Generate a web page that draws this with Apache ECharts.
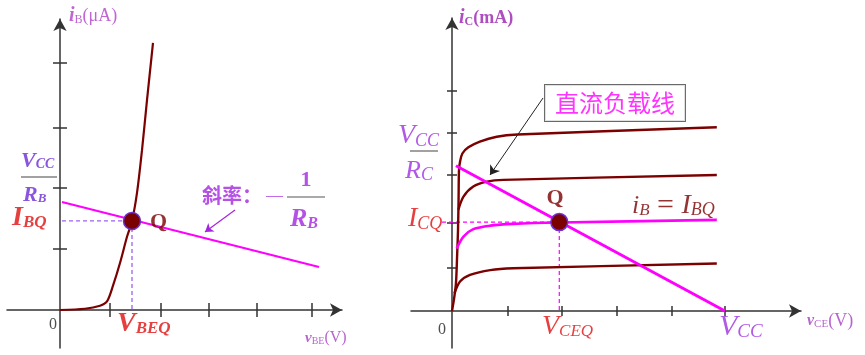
<!DOCTYPE html>
<html><head><meta charset="utf-8">
<script src="https://cdn.jsdelivr.net/npm/echarts@6/dist/echarts.min.js"></script>
<style>html,body{margin:0;padding:0;background:#fff}#c{width:865px;height:355px}</style>
</head><body><div id="c"></div>
<script>
// ---------- data (axis units) ----------
// Left panel: input characteristic iB(vBE)
const inputCurve = [[0,0],[0.5,0.02],[0.8,0.07],[0.94,0.14],[1.06,0.4],[1.2,0.77],[1.34,1.2],[1.44,1.46],[1.54,1.92],[1.64,2.62],[1.74,3.44],[1.86,4.38]];
const inputLoadLine = [[0.04,1.77],[5.18,0.705]];
const inputQ = [1.44,1.46];
const leftXTicks = [1,2.02,2.98,3.94,5.04];
const leftYTicks = [1,2,2.98,4.05];
// Right panel: output characteristics iC(vCE)
const outCurve1 = [[0,0],[0.04,0.3],[0.073,0.64],[0.095,1.3],[0.11,1.84],[0.12,2.5],[0.128,3.2],[0.147,3.39],[0.19,3.58],[0.3,3.72],[0.51,3.85],[0.82,3.96],[1.2,4.01],[4.85,4.175]];
const outCurve2 = [[0.116,2.3],[0.21,2.6],[0.39,2.83],[0.64,2.94],[0.94,2.98],[4.85,3.09]];
const outCurveQ = [[0.086,1.42],[0.21,1.69],[0.39,1.86],[0.7,1.94],[1.12,1.98],[1.965,2.01],[4.85,2.07]];
const outCurve4 = [[0.045,0.4],[0.147,0.67],[0.33,0.82],[0.7,0.93],[1.12,0.97],[4.85,1.08]];
const outLoadLine = [[0.073,3.3],[5.0,0]];
const outQ = [1.965,2.02];
const rightXTicks = [1.02,2.01,3.02,4.03,5.0];
const rightYTicks = [0.98,2.0,3.09,4.05,5.0];
const icqLineStartX = -0.183;

// annotation geometry (axis units)
const leftFracBar = [[-0.78,2.18],[-0.06,2.18]];
const slopeFracBar = [[4.54,1.852],[5.3,1.852]];
const rightFracBar = [[-0.989,3.636],[-0.256,3.636]];
const slopeArrow = [[3.5,1.639],[2.9,1.279]];
const loadLineArrow = [[1.667,4.841],[0.696,3.091]];

const SERIF = '"Liberation Serif","DejaVu Serif",serif';
const CJK = '"Noto Sans CJK SC","Noto Sans",sans-serif';
const DR = '#7b0000', MG = '#ff00ff', RED = '#e00f0f', PL = '#6b2ad6', PS = '#a425e0', PR = '#9e2fe0', PT = '#a63dc4';

const leftLabels = [
  {at:[0.18,4.82], c:'#b040c8', parts:[{t:'i',s:20,it:1,b:1},{t:'B',s:12,d:8},{t:'(μA)',s:18}]},
  {at:[-0.78,2.443], c:PL, parts:[{t:'V',s:22,it:1,b:1},{t:'CC',s:14,it:1,b:1,d:7}]},
  {at:[-0.74,1.885], c:PL, parts:[{t:'R',s:22,it:1,b:1},{t:'B',s:13,it:1,b:1,d:8}]},
  {at:[-0.96,1.508], c:RED, parts:[{t:'I',s:28,it:1,b:1},{t:'BQ',s:17,it:1,b:1,d:9}]},
  {at:[1.8,1.443], c:DR, parts:[{t:'Q',s:22,b:1}]},
  {at:[1.14,-0.23], c:RED, parts:[{t:'V',s:28,it:1,b:1},{t:'BEQ',s:17,it:1,b:1,d:9}]},
  {at:[-0.14,-0.246], c:'#222', al:'center', parts:[{t:'0',s:16}]},
  {at:[4.9,-0.459], c:PT, parts:[{t:'v',s:15,it:1,b:1},{t:'BE',s:10,d:6},{t:'(V)',s:16}]},
  {at:[2.84,1.885], c:PS, parts:[{t:'斜率：',s:20,f:CJK,b:1}]},
  {at:[4.12,1.87], c:PS, parts:[{t:'—',s:17}]},
  {at:[4.92,2.131], c:PS, al:'center', parts:[{t:'1',s:22,b:1}]},
  {at:[4.6,1.492], c:PS, parts:[{t:'R',s:26,it:1,b:1},{t:'B',s:16,it:1,b:1,d:9}]}
];
const rightLabels = [
  {at:[0.128,6.659], c:'#9a20b0', parts:[{t:'i',s:20,it:1,b:1},{t:'C',s:12,b:1,d:8},{t:'(mA)',s:18,b:1}]},
  {at:[-0.989,3.977], c:PR, parts:[{t:'V',s:28,it:1},{t:'CC',s:18,it:1,d:10}]},
  {at:[-0.861,3.182], c:PR, parts:[{t:'R',s:26,it:1},{t:'C',s:18,it:1,d:9}]},
  {at:[-0.806,2.091], c:RED, parts:[{t:'I',s:28,it:1},{t:'CQ',s:18,it:1,d:10}]},
  {at:[1.886,2.568], c:DR, al:'center', parts:[{t:'Q',s:22,b:1}]},
  {at:[3.297,2.386], c:DR, parts:[{t:'i',s:26,it:1},{t:'B',s:17,it:1,d:9},{t:' = ',s:30},{t:'I',s:28,it:1},{t:'BQ',s:18,it:1,d:9}]},
  {at:[2.985,4.727], c:MG, al:'center', box:1, parts:[{t:'直流负载线',s:24,f:CJK}]},
  {at:[-0.183,-0.432], c:'#222', al:'center', parts:[{t:'0',s:16}]},
  {at:[1.648,-0.364], c:RED, parts:[{t:'V',s:28,it:1},{t:'CEQ',s:17,it:1,d:10}]},
  {at:[4.89,-0.364], c:PR, parts:[{t:'V',s:30,it:1},{t:'CC',s:19,it:1,d:10}]},
  {at:[6.502,-0.227], c:PT, parts:[{t:'v',s:16,it:1,b:1},{t:'CE',s:11,d:6},{t:'(V)',s:18}]}
];

// ---------- helpers ----------
function buildLabels(list, prefix){
  const rich = {}; const data = [];
  list.forEach((a,i)=>{
    let fmt = '';
    a.parts.forEach((p,j)=>{
      const key = prefix + i + '_' + j;
      rich[key] = {fontFamily:p.f||SERIF, fontSize:p.s, fontStyle:p.it?'italic':'normal',
        fontWeight:p.b?'bold':'normal', color:a.c, padding:[p.d||0,0,0,0]};
      fmt += '{' + key + '|' + p.t + '}';
    });
    const lab = {show:true, position:'inside', formatter:fmt, align:a.al||'left', verticalAlign:'middle'};
    if (a.box) Object.assign(lab, {backgroundColor:'#fff', borderColor:'#444', borderWidth:1, padding:[6,10,6,10]});
    data.push({value:a.at, label:lab});
  });
  return {data, rich};
}
const AX = '#333';
function axisPair(gridIndex, min, max, ticks, len, zeroIdx){
  const base = {type:'value', gridIndex, min, max,
    axisLabel:{show:false}, splitLine:{show:false}};
  const main = Object.assign({}, base, {
    axisLine:{show:true, onZero:true, onZeroAxisIndex:zeroIdx, symbol:['none','arrow'], symbolSize:[10,12],
      lineStyle:{color:AX, width:1.5}},
    axisTick:{show:true, customValues:ticks, length:len, lineStyle:{color:AX, width:1.5}}
  });
  const dup = Object.assign({}, base, {
    axisLine:{show:false, onZero:true, onZeroAxisIndex:zeroIdx},
    axisTick:{show:true, inside:true, customValues:ticks, length:len, lineStyle:{color:AX, width:1.5}}
  });
  return [main, dup];
}
function line(xi, data, color, width, extra){
  return Object.assign({type:'line', xAxisIndex:xi, yAxisIndex:xi, data, symbol:'none', showSymbol:false,
    lineStyle:{color, width}, silent:true, clip:false}, extra||{});
}

const [lx0, lx1] = axisPair(0, -1.06, 5.64, leftXTicks, 7, 0);
const [ly0, ly1] = axisPair(0, -0.623, 4.77, leftYTicks, 7, 0);
const [rx0, rx1] = axisPair(1, -0.751, 6.392, rightXTicks, 5, 2);
const [ry0, ry1] = axisPair(1, -0.841, 6.659, rightYTicks, 5, 2);
lx0.position = lx1.position = 'bottom';
rx0.position = rx1.position = 'bottom';
ly0.position = ly1.position = 'left';
ry0.position = ry1.position = 'left';

const LL = buildLabels(leftLabels, 'l');
const RL = buildLabels(rightLabels, 'r');

const series = [
  // left panel
  line(0, inputLoadLine, MG, 2),
  line(0, [[inputLoadLine[0][0], inputQ[1]], inputQ], '#a060f0', 1.3, {lineStyle:{color:'#a060f0', width:1.3, type:[4,3]}}),
  line(0, [inputQ, [inputQ[0], 0]], '#a060f0', 1.3, {lineStyle:{color:'#a060f0', width:1.3, type:[4,3]}}),
  line(0, inputCurve, DR, 2.2, {smooth:0.3}),
  line(0, leftFracBar, '#444', 1.2),
  line(0, slopeFracBar, '#555', 1.2),
  {type:'lines', coordinateSystem:'cartesian2d', xAxisIndex:0, yAxisIndex:0, silent:true,
    symbol:['none','arrow'], symbolSize:8, lineStyle:{color:PS, width:1.2, opacity:1},
    data:[{coords:slopeArrow}]},
  {type:'scatter', xAxisIndex:0, yAxisIndex:0, data:[inputQ], symbolSize:17, z:5, silent:true,
    itemStyle:{color:DR, borderColor:'#6a30d0', borderWidth:1.5, opacity:1}},
  {type:'scatter', xAxisIndex:0, yAxisIndex:0, data:LL.data, symbolSize:0, clip:false, silent:true, z:6,
    label:{show:true, position:'inside', verticalAlign:'middle', rich:LL.rich}},
  // right panel
  line(2, [[icqLineStartX, outQ[1]], outQ], MG, 1.2, {lineStyle:{color:MG, width:1.2, type:[4,3]}}),
  line(2, [outQ, [outQ[0], 0]], MG, 1.2, {lineStyle:{color:MG, width:1.2, type:[4,3]}}),
  line(2, outCurve1, DR, 2.4, {smooth:0.3}),
  line(2, outCurve2, DR, 2.4, {smooth:0.3}),
  line(2, outCurve4, DR, 2.4, {smooth:0.3}),
  line(2, outCurveQ, MG, 2.6, {smooth:0.3}),
  line(2, outLoadLine, MG, 3),
  line(2, rightFracBar, '#444', 1.2),
  {type:'lines', coordinateSystem:'cartesian2d', xAxisIndex:2, yAxisIndex:2, silent:true,
    symbol:['none','arrow'], symbolSize:9, lineStyle:{color:'#222', width:1, opacity:1},
    data:[{coords:loadLineArrow}]},
  {type:'scatter', xAxisIndex:2, yAxisIndex:2, data:[outQ], symbolSize:17, z:5, silent:true,
    itemStyle:{color:DR, borderColor:'#7030e0', borderWidth:1.5, opacity:1}},
  {type:'scatter', xAxisIndex:2, yAxisIndex:2, data:RL.data, symbolSize:0, clip:false, silent:true, z:6,
    label:{show:true, position:'inside', verticalAlign:'middle', rich:RL.rich}}
];

const chart = echarts.init(document.getElementById('c'), null, {renderer:'canvas'});
chart.setOption({
  animation:false,
  backgroundColor:'#fff',
  grid:[
    {left:7, top:19, width:335, height:329, outerBoundsMode:'none', containLabel:false},
    {left:411, top:18, width:390, height:330, outerBoundsMode:'none', containLabel:false}
  ],
  xAxis:[lx0, lx1, rx0, rx1],
  yAxis:[ly0, ly1, ry0, ry1],
  series
});
</script></body></html>
